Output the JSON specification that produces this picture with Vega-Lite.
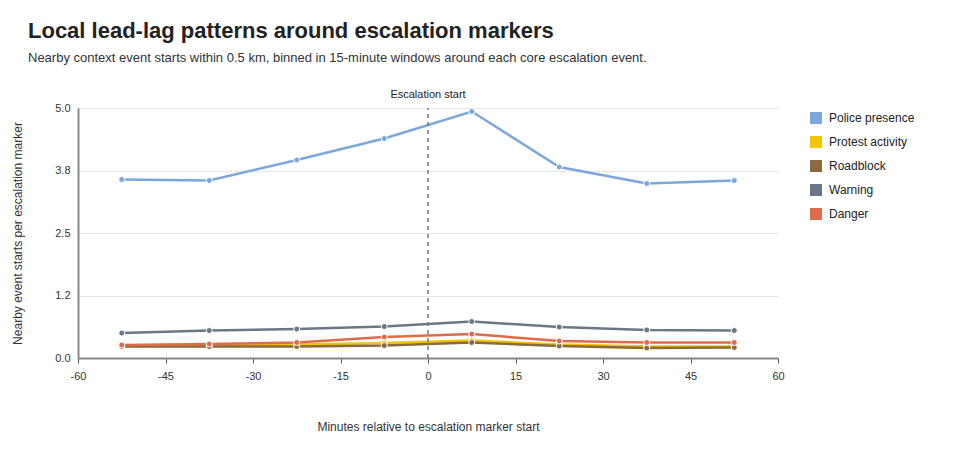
{
  "$schema": "https://vega.github.io/schema/vega-lite/v6.json",
  "autosize": "none",
  "width": 700,
  "height": 250,
  "padding": {"left": 78, "top": 108, "right": 182, "bottom": 112},
  "background": "white",
  "title": {
    "text": "Local lead-lag patterns around escalation markers",
    "subtitle": "Nearby context event starts within 0.5 km, binned in 15-minute windows around each core escalation event.",
    "anchor": "start",
    "frame": "group",
    "dx": -50,
    "font": "Liberation Sans",
    "fontSize": 22,
    "fontWeight": "bold",
    "color": "#222222",
    "subtitleFont": "Liberation Sans",
    "subtitleFontSize": 13,
    "subtitleColor": "#333333",
    "subtitlePadding": 9,
    "offset": 23
  },
  "config": {
    "view": {"stroke": null},
    "font": "Liberation Sans"
  },
  "datasets": {
    "series": [
      {"minute": -52.5, "category": "Police presence", "value": 3.57},
      {"minute": -37.5, "category": "Police presence", "value": 3.55},
      {"minute": -22.5, "category": "Police presence", "value": 3.96},
      {"minute": -7.5, "category": "Police presence", "value": 4.39},
      {"minute": 7.5, "category": "Police presence", "value": 4.93},
      {"minute": 22.5, "category": "Police presence", "value": 3.82},
      {"minute": 37.5, "category": "Police presence", "value": 3.49},
      {"minute": 52.5, "category": "Police presence", "value": 3.55},
      {"minute": -52.5, "category": "Protest activity", "value": 0.24},
      {"minute": -37.5, "category": "Protest activity", "value": 0.25},
      {"minute": -22.5, "category": "Protest activity", "value": 0.27},
      {"minute": -7.5, "category": "Protest activity", "value": 0.3},
      {"minute": 7.5, "category": "Protest activity", "value": 0.35},
      {"minute": 22.5, "category": "Protest activity", "value": 0.27},
      {"minute": 37.5, "category": "Protest activity", "value": 0.23},
      {"minute": 52.5, "category": "Protest activity", "value": 0.23},
      {"minute": -52.5, "category": "Roadblock", "value": 0.23},
      {"minute": -37.5, "category": "Roadblock", "value": 0.23},
      {"minute": -22.5, "category": "Roadblock", "value": 0.23},
      {"minute": -7.5, "category": "Roadblock", "value": 0.25},
      {"minute": 7.5, "category": "Roadblock", "value": 0.31},
      {"minute": 22.5, "category": "Roadblock", "value": 0.24},
      {"minute": 37.5, "category": "Roadblock", "value": 0.2},
      {"minute": 52.5, "category": "Roadblock", "value": 0.21},
      {"minute": -52.5, "category": "Warning", "value": 0.5},
      {"minute": -37.5, "category": "Warning", "value": 0.55},
      {"minute": -22.5, "category": "Warning", "value": 0.58},
      {"minute": -7.5, "category": "Warning", "value": 0.63},
      {"minute": 7.5, "category": "Warning", "value": 0.73},
      {"minute": 22.5, "category": "Warning", "value": 0.62},
      {"minute": 37.5, "category": "Warning", "value": 0.56},
      {"minute": 52.5, "category": "Warning", "value": 0.55},
      {"minute": -52.5, "category": "Danger", "value": 0.26},
      {"minute": -37.5, "category": "Danger", "value": 0.28},
      {"minute": -22.5, "category": "Danger", "value": 0.31},
      {"minute": -7.5, "category": "Danger", "value": 0.42},
      {"minute": 7.5, "category": "Danger", "value": 0.48},
      {"minute": 22.5, "category": "Danger", "value": 0.34},
      {"minute": 37.5, "category": "Danger", "value": 0.31},
      {"minute": 52.5, "category": "Danger", "value": 0.31}
    ],
    "marker": [
      {"minute": 0, "label": "Escalation start", "bottom": 0, "top": 5}
    ]
  },
  "layer": [
    {
      "data": {"name": "series"},
      "mark": {"type": "line", "strokeWidth": 2.5, "point": {"filled": true, "size": 36, "stroke": "white", "strokeWidth": 1}},
      "encoding": {
        "x": {
          "field": "minute",
          "type": "quantitative",
          "scale": {"domain": [-60, 60], "nice": false},
          "axis": {
            "title": "Minutes relative to escalation marker start",
            "values": [-60, -45, -30, -15, 0, 15, 30, 45, 60],
            "labelExpr": "toString(datum.value)",
            "labelFlush": false,
            "grid": false,
            "domainColor": "#888888",
            "domainWidth": 2,
            "tickColor": "#555555",
            "tickSize": 5,
            "labelFontSize": 11,
            "labelColor": "#333333",
            "labelPadding": 7,
            "titleFontSize": 12,
            "titleFontWeight": "normal",
            "titleColor": "#333333",
            "titlePadding": 40
          }
        },
        "y": {
          "field": "value",
          "type": "quantitative",
          "scale": {"domain": [0, 5], "nice": false},
          "axis": {
            "title": "Nearby event starts per escalation marker",
            "values": [0, 1.25, 2.5, 3.75, 5],
            "labelExpr": "datum.value == 1.25 ? '1.2' : format(datum.value, '.1f')",
            "grid": true,
            "gridColor": "#e6e6e6",
            "ticks": false,
            "domainColor": "#888888",
            "domainWidth": 2,
            "labelFontSize": 11,
            "labelColor": "#333333",
            "labelPadding": 8,
            "titleFontSize": 12,
            "titleFontWeight": "normal",
            "titleColor": "#333333",
            "titlePadding": 30
          }
        },
        "color": {
          "field": "category",
          "type": "nominal",
          "sort": ["Police presence", "Protest activity", "Roadblock", "Warning", "Danger"],
          "scale": {
            "domain": ["Police presence", "Protest activity", "Roadblock", "Warning", "Danger"],
            "range": ["#7ba7dd", "#f2c500", "#8b6b3d", "#6b7787", "#e06a4c"]
          },
          "legend": {
            "title": null,
            "orient": "none",
            "legendX": 732,
            "legendY": 4,
            "symbolType": "square",
            "symbolSize": 144,
            "symbolStrokeWidth": 0,
            "symbolOpacity": 1,
            "labelFontSize": 12,
            "labelColor": "#222222",
            "labelOffset": 7,
            "rowPadding": 12,
            "padding": 0
          }
        }
      }
    },
    {
      "data": {"name": "marker"},
      "mark": {"type": "rule", "color": "#777777", "strokeDash": [4, 4], "strokeWidth": 1.5},
      "encoding": {
        "x": {"field": "minute", "type": "quantitative"},
        "y": {"field": "bottom", "type": "quantitative"},
        "y2": {"field": "top"}
      }
    },
    {
      "data": {"name": "marker"},
      "mark": {"type": "text", "baseline": "bottom", "dy": -8, "fontSize": 11, "color": "#222222"},
      "encoding": {
        "x": {"field": "minute", "type": "quantitative"},
        "y": {"field": "top", "type": "quantitative"},
        "text": {"field": "label"}
      }
    }
  ]
}
